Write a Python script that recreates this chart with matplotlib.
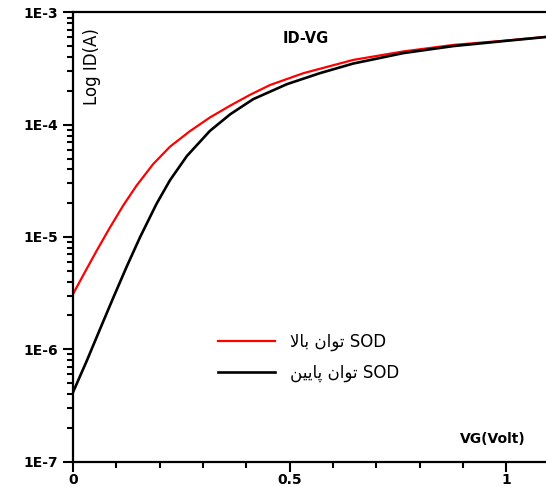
import matplotlib
matplotlib.use("Agg")
import matplotlib.pyplot as plt
from matplotlib.ticker import LogLocator, MultipleLocator, NullFormatter, FixedFormatter, FixedLocator

# ID-VG curves
vg_high = [0.0, 0.028, 0.055, 0.085, 0.116, 0.147, 0.185, 0.224, 0.270, 0.316,
           0.363, 0.409, 0.455, 0.532, 0.647, 0.763, 0.878, 0.994, 1.092]
id_high = [3.10e-6, 4.91e-6, 7.59e-6, 1.21e-5, 1.91e-5, 2.88e-5, 4.46e-5, 6.38e-5,
           8.77e-5, 1.16e-4, 1.48e-4, 1.85e-4, 2.26e-4, 2.88e-4, 3.78e-4, 4.50e-4,
           5.14e-4, 5.60e-4, 6.07e-4]

vg_low = [0.0, 0.032, 0.062, 0.093, 0.124, 0.155, 0.193, 0.224, 0.263, 0.316,
          0.363, 0.416, 0.494, 0.570, 0.647, 0.763, 0.878, 0.994, 1.092]
id_low = [4.14e-7, 7.92e-7, 1.50e-6, 2.88e-6, 5.45e-6, 1.00e-5, 1.98e-5, 3.21e-5,
          5.27e-5, 8.81e-5, 1.24e-4, 1.69e-4, 2.30e-4, 2.88e-4, 3.51e-4, 4.35e-4,
          5.02e-4, 5.56e-4, 6.05e-4]

# Persian labels, given in visual order with presentation forms
label_high = "\ufefb\ufe8e\ufe91 \ufee5\ufe8d\ufeee\ufe97 SOD"   # SOD توان بالا
label_low = "\ufee6\ufbff\ufbfe\ufe8e\ufb58 \ufee5\ufe8d\ufeee\ufe97 SOD"  # SOD توان پایین

y_ticks = [1e-7, 1e-6, 1e-5, 1e-4, 1e-3]
y_labels = ["1E-7", "1E-6", "1E-5", "1E-4", "1E-3"]
x_ticks = [0, 0.5, 1]
x_labels = ["0", "0.5", "1"]

plt.rcParams['font.family'] = ['DejaVu Sans']

fig = plt.figure(figsize=(5.46, 4.86), dpi=100)
ax = fig.add_axes([0.1337, 0.0504, 0.8663, 0.9239])

ax.plot(vg_high, id_high, color='#ff0000', lw=1.6, label=label_high)
ax.plot(vg_low, id_low, color='black', lw=1.9, label=label_low)

ax.set_yscale('log')
ax.set_xlim(0, 1.092)
ax.set_ylim(1e-7, 1e-3)

ax.yaxis.set_major_locator(FixedLocator(y_ticks))
ax.yaxis.set_major_formatter(FixedFormatter(y_labels))
ax.yaxis.set_minor_locator(LogLocator(base=10, subs=range(2, 10)))
ax.yaxis.set_minor_formatter(NullFormatter())
ax.xaxis.set_major_locator(FixedLocator(x_ticks))
ax.xaxis.set_major_formatter(FixedFormatter(x_labels))
ax.xaxis.set_minor_locator(MultipleLocator(0.1))

for sp in ['left', 'bottom', 'top']:
    ax.spines[sp].set_linewidth(1.6)
ax.spines['right'].set_visible(False)

ax.tick_params(which='major', direction='out', length=7, width=1.5, pad=4,
               labelsize=10)
ax.tick_params(axis='x', which='major', pad=1.5)
ax.tick_params(which='minor', direction='out', length=4.5, width=1.5)
for t in ax.get_xticklabels() + ax.get_yticklabels():
    t.set_fontweight('bold')

ax.text(0.040, 0.966, 'Log ID(A)', transform=ax.transAxes, rotation=90,
        ha='center', va='top', fontsize=12)
ax.text(0.444, 0.941, 'ID-VG', transform=ax.transAxes, ha='left', va='center',
        fontsize=10.5, fontweight='bold')
ax.text(0.958, 0.050, 'VG(Volt)', transform=ax.transAxes, ha='right', va='center',
        fontsize=10, fontweight='bold')

ax.legend(loc='center left', bbox_to_anchor=(0.275, 0.232), frameon=False,
          fontsize=12, handlelength=3.4, handletextpad=0.9, labelspacing=0.75)

fig.savefig('out.png', dpi=100)
